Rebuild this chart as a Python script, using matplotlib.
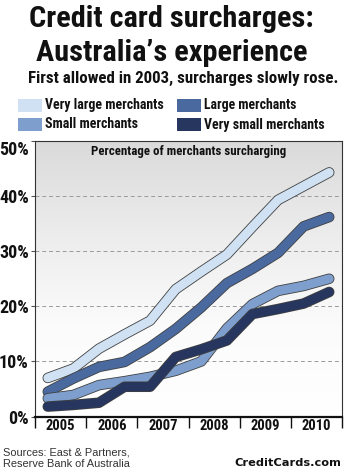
import numpy as np
import matplotlib
matplotlib.use("Agg")
import matplotlib.pyplot as plt
import matplotlib.patheffects as pe
from matplotlib.patches import Rectangle
from matplotlib.colors import LinearSegmentedColormap

# ---------------- data ----------------
years = [2005, 2006, 2007, 2008, 2009, 2010]
halves = ["H1", "H2"]
very_large = [7.0, 8.7, 12.3, 14.9, 17.4, 23.1, 26.3, 29.4, 34.4, 39.3, 41.8, 44.3]
large = [4.5, 6.9, 9.0, 9.9, 12.6, 15.9, 19.8, 24.2, 26.8, 29.7, 34.5, 36.2]
small = [3.3, 3.9, 5.7, 6.4, 7.2, 8.3, 10.0, 16.0, 20.4, 22.8, 23.7, 25.0]
very_small = [1.8, 2.1, 2.5, 5.4, 5.4, 10.8, 12.2, 13.8, 18.6, 19.5, 20.5, 22.6]
series_names = ["Very large merchants", "Large merchants", "Small merchants", "Very small merchants"]
yticks = [0, 10, 20, 30, 40, 50]

# time position of each half-year observation
periods = [(y, h) for y in years for h in halves]
xpos = np.array([y + (0.25 if h == "H1" else 0.75) for y, h in periods])

# ---------------- style ----------------
W, H = 344, 473
DPI = 100
COND = ["Roboto Condensed", "PT Sans Narrow", "Liberation Sans", "DejaVu Sans"]
colors = {
    "Very large merchants": "#cfe1f2",
    "Large merchants": "#4a6a9f",
    "Small merchants": "#7e9fcd",
    "Very small merchants": "#26365f",
}
data = dict(zip(series_names, [very_large, large, small, very_small]))

fig = plt.figure(figsize=(W / DPI, H / DPI), dpi=DPI)
fig.patch.set_facecolor("white")
renderer = fig.canvas.get_renderer()


def px(x, y):
    return x / W, 1 - y / H


def fit_text(x, y, s, width, ha="center", family=COND, weight="bold", color="#111111", init=12):
    t = fig.text(*px(x, y), s, ha=ha, va="center", fontfamily=family,
                 fontweight=weight, fontsize=init, color=color)
    bb = t.get_window_extent(renderer)
    t.set_fontsize(init * width / bb.width)
    return t


# axes placement (pixels)
L, R, T, B = 35, 342, 141, 416.5
ax = fig.add_axes([L / W, 1 - B / H, (R - L) / W, (B - T) / H])
ax.set_xlim(years[0], years[-1] + 1)
ax.set_ylim(yticks[0], yticks[-1])

# gradient background
grad = np.linspace(0, 1, 256).reshape(-1, 1)
cmap = LinearSegmentedColormap.from_list("bg", ["#ffffff", "#fbfbfb", "#ececec", "#dadada"])
ax.imshow(grad, extent=[years[0], years[-1] + 1, yticks[0], yticks[-1]],
          aspect="auto", cmap=cmap, origin="lower", zorder=0)

for g in yticks[1:-1]:
    ax.axhline(g, color="#9a9a9a", lw=0.7, ls=(0, (4, 3)), zorder=1)

for i, name in enumerate(series_names):
    ax.plot(xpos, data[name], color=colors[name], lw=6.4, solid_capstyle="round",
            solid_joinstyle="round", zorder=3 + i,
            path_effects=[pe.Stroke(linewidth=7.6, foreground="#404040"), pe.Normal()])

# spines
for s in ["left", "right", "top"]:
    ax.spines[s].set_color("#333333")
    ax.spines[s].set_linewidth(0.8)
ax.spines["bottom"].set_color("#111111")
ax.spines["bottom"].set_linewidth(1.6)

# x ticks: boundaries as tick marks, labels centred in bands
ax.set_xticks(list(range(years[0], years[-1] + 2)))
ax.set_xticklabels([])
ax.tick_params(axis="x", which="major", direction="out", length=8, width=1.0, color="#111111")
ax.set_xticks([y + 0.5 for y in years], minor=True)
ax.set_xticklabels([str(y) for y in years], minor=True, fontfamily=COND,
                   fontweight="bold", fontsize=10.5, color="#111111")
ax.tick_params(axis="x", which="minor", length=0, pad=2)

ax.set_yticks(yticks)
ax.set_yticklabels([f"{v}%" for v in yticks], fontfamily=COND, fontweight="bold",
                   fontsize=13, color="#111111")
ax.tick_params(axis="y", direction="out", length=3, width=0.8, color="#555555", pad=1.5)
# top label sits just below the frame's top edge, as in the reference
ax.get_yticklabels()[-1].set_va("top")

# inner title
fit_text(188.5, 152, "Percentage of merchants surcharging", 195)

# titles
fit_text(171.5, 19, "Credit card surcharges:", 285)
fit_text(171.5, 53, "Australia\u2019s experience", 272)
fit_text(183, 78, "First allowed in 2003, surcharges slowly rose.", 310)

# legend
leg_items = [
    ("Very large merchants", 18, 99, 119),
    ("Large merchants", 177, 99, 93),
    ("Small merchants", 18, 118, 93),
    ("Very small merchants", 177, 118, 121),
]
for name, x0, y0, tw in leg_items:
    fig.patches.append(Rectangle(px(x0, y0 + 13), 24 / W, 13 / H, transform=fig.transFigure,
                                 facecolor=colors[name], edgecolor="none"))
    fit_text(x0 + 27, y0 + 6.5, name, tw, ha="left")

# footer
fit_text(3, 452, "Sources: East & Partners,", 127, ha="left",
         family=["Liberation Sans", "DejaVu Sans"], weight="normal", color="#333333")
fit_text(3, 464, "Reserve Bank of Australia", 127, ha="left",
         family=["Liberation Sans", "DejaVu Sans"], weight="normal", color="#333333")
fit_text(341, 463, "CreditCards.com", 106, ha="right",
         family=["DejaVu Sans"], weight="bold", color="#111111")

fig.savefig("out.png", dpi=DPI)
